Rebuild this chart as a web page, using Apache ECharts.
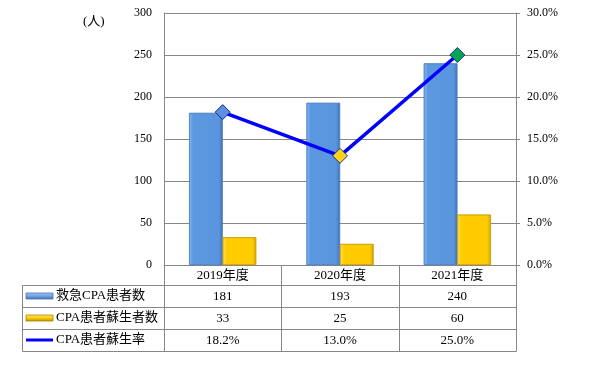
<!DOCTYPE html>
<html><head><meta charset="utf-8">
<script src="https://cdn.jsdelivr.net/npm/echarts@6/dist/echarts.min.js"></script>
<style>html,body{margin:0;padding:0;background:#fff}#c{width:598px;height:368px}</style>
</head><body><div id="c"></div>
<script>
// ---- data ----
const categories = ['2019年度', '2020年度', '2021年度'];
const cpaPatients = [181, 193, 240];
const revivedPatients = [33, 25, 60];
const reviveRate = [18.2, 13.0, 25.0];
const seriesNames = ['救急CPA患者数', 'CPA患者蘇生者数', 'CPA患者蘇生率'];
const markerColors = ['#5B8FE0', '#FFD21A', '#00A651'];
const unitLabel = '(人)';

const FONT = '"Liberation Serif","Times New Roman","Noto Sans CJK JP",serif';
const GRID_COLOR = '#878787';
const blueFill = new echarts.graphic.LinearGradient(0, 0, 1, 0, [
  {offset: 0, color: '#86B6EE'}, {offset: 0.12, color: '#5C98DF'},
  {offset: 0.88, color: '#5A96DD'}, {offset: 1, color: '#3F74BC'}]);
const yellowFill = new echarts.graphic.LinearGradient(0, 0, 1, 0, [
  {offset: 0, color: '#FFE26A'}, {offset: 0.12, color: '#FFCC00'},
  {offset: 0.88, color: '#FFCC00'}, {offset: 1, color: '#D9A800'}]);
const fmtPct = v => v.toFixed(1) + '%';

const chart = echarts.init(document.getElementById('c'), null, {renderer: 'canvas'});
const option = {
  animation: false,
  backgroundColor: '#ffffff',
  grid: {left: 164, right: 82, top: 13, bottom: 103, outerBoundsMode: 'none', containLabel: false},
  xAxis: {
    type: 'category', data: categories,
    axisLine: {show: true, lineStyle: {color: GRID_COLOR, width: 1}},
    axisTick: {show: false},
    axisLabel: {color: '#000', fontFamily: FONT, fontSize: 13, margin: 4}
  },
  yAxis: [{
    type: 'value', min: 0, max: 300, interval: 50,
    axisLine: {show: true, lineStyle: {color: GRID_COLOR}},
    axisTick: {show: false},
    splitLine: {show: true, lineStyle: {color: GRID_COLOR, width: 1}},
    axisLabel: {color: '#000', fontFamily: FONT, fontSize: 12, margin: 12}
  }, {
    type: 'value', min: 0, max: 30, interval: 5, position: 'right',
    axisLine: {show: true, lineStyle: {color: GRID_COLOR}},
    axisTick: {show: true, length: 4, lineStyle: {color: GRID_COLOR}},
    splitLine: {show: false},
    axisLabel: {color: '#000', fontFamily: FONT, fontSize: 12, margin: 11, formatter: fmtPct}
  }],
  series: [{
    name: seriesNames[0], type: 'bar', data: cpaPatients, barWidth: 33.5, barGap: '0%',
    itemStyle: {color: blueFill, borderColor: '#4A7DC0', borderWidth: 0.6}
  }, {
    name: seriesNames[1], type: 'bar', data: revivedPatients, barWidth: 33.5, barGap: '0%',
    itemStyle: {color: yellowFill, borderColor: '#C89B00', borderWidth: 0.6}
  }, {
    name: seriesNames[2], type: 'line', yAxisIndex: 1, z: 5,
    data: reviveRate.map((v, i) => ({value: v, itemStyle: {color: markerColors[i]}})),
    symbol: 'diamond', symbolSize: 15,
    lineStyle: {color: '#0000FF', width: 3.5},
    itemStyle: {borderColor: '#1B2C9A', borderWidth: 1}
  }]
};
chart.setOption(option);

function drawTable() {
  const cx = categories.map((c, i) => chart.convertToPixel({xAxisIndex: 0}, i));
  const step = cx[1] - cx[0];
  const colLeft = cx[0] - step / 2;
  const colRight = colLeft + step * categories.length;
  const y0 = chart.convertToPixel({yAxisIndex: 0}, 0);
  const headerH = 20, rowH = 22, tableLeft = 22;
  const rowTops = [0, 1, 2, 3].map(k => y0 + headerH + k * rowH);
  const bottom = rowTops[3];
  const els = [];
  const px = v => Math.round(v) + 0.5;
  const line = (x1, y1, x2, y2) => els.push({type: 'line', silent: true,
    shape: {x1: px(x1), y1: px(y1), x2: px(x2), y2: px(y2)},
    style: {stroke: GRID_COLOR, lineWidth: 1}});
  rowTops.forEach(y => line(tableLeft, y, colRight, y));
  line(tableLeft, rowTops[0], tableLeft, bottom);
  for (let k = 0; k <= categories.length; k++) line(colLeft + k * step, y0, colLeft + k * step, bottom);
  const rows = [cpaPatients.map(String), revivedPatients.map(String), reviveRate.map(fmtPct)];
  rows.forEach((r, ri) => r.forEach((t, ci) => els.push({type: 'text', silent: true,
    style: {text: t, x: cx[ci], y: rowTops[ri] + rowH / 2 + 1, align: 'center', verticalAlign: 'middle',
      font: '13px ' + FONT, fill: '#000'}})));
  const iconX = 26, iconW = 27, textX = 56;
  seriesNames.forEach((n, ri) => {
    const cy = rowTops[ri] + rowH / 2;
    if (ri < 2) {
      els.push({type: 'rect', silent: true, shape: {x: iconX, y: cy - 3, width: iconW, height: 6},
        style: {fill: new echarts.graphic.LinearGradient(0, 0, 0, 1, ri === 0 ?
          [{offset: 0, color: '#A9CBF2'}, {offset: 0.5, color: '#6FA3E2'}, {offset: 1, color: '#3F6FB5'}] :
          [{offset: 0, color: '#FFE88A'}, {offset: 0.5, color: '#FFCC00'}, {offset: 1, color: '#B58C00'}]),
          stroke: ri === 0 ? '#4A6FA8' : '#A88400', lineWidth: 0.8}});
    } else {
      els.push({type: 'line', silent: true, shape: {x1: iconX, y1: cy, x2: iconX + iconW, y2: cy},
        style: {stroke: '#0000FF', lineWidth: 3}});
    }
    els.push({type: 'text', silent: true, style: {text: n, x: textX, y: cy, align: 'left', verticalAlign: 'middle',
      font: '13px ' + FONT, fill: '#000'}});
  });
  els.push({type: 'text', silent: true, style: {text: unitLabel, x: 83, y: 22, align: 'left', verticalAlign: 'middle',
    font: '13px ' + FONT, fill: '#000'}});
  chart.setOption({graphic: {elements: els}});
}
drawTable();
</script></body></html>
